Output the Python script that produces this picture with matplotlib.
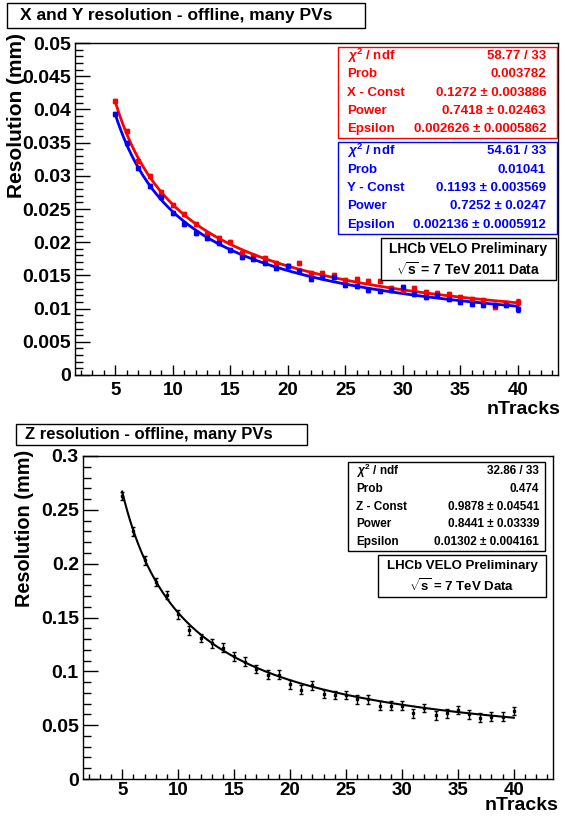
import numpy as np
import matplotlib
matplotlib.use("Agg")
import matplotlib.pyplot as plt
from matplotlib.patches import Rectangle
from matplotlib.ticker import MultipleLocator

plt.rcParams['font.family'] = ['Liberation Sans', 'DejaVu Sans']
plt.rcParams['font.weight'] = 'bold'
plt.rcParams['mathtext.fontset'] = 'custom'
plt.rcParams['mathtext.rm'] = 'Liberation Sans:bold'
plt.rcParams['mathtext.it'] = 'Liberation Sans:italic'
plt.rcParams['mathtext.bf'] = 'Liberation Sans:bold'

# --- données ---
n_tracks = list(range(5, 41))

res_x = [0.0412, 0.0367, 0.0323, 0.0299, 0.0275, 0.0256, 0.0242, 0.0228, 0.0212, 0.0206,
         0.0200, 0.0183, 0.0179, 0.0176, 0.0169, 0.0164, 0.0168, 0.0153, 0.0153, 0.0151,
         0.0143, 0.0145, 0.0141, 0.0141, 0.0131, 0.0128, 0.0131, 0.0125, 0.0123, 0.0122,
         0.0118, 0.0114, 0.0113, 0.0103, 0.0108, 0.0110]
res_x_err = [0.0003, 0.0003, 0.0003, 0.0003, 0.0003, 0.0003, 0.0003, 0.0003, 0.0003, 0.0003,
             0.0003, 0.0003, 0.0003, 0.0003, 0.0003, 0.0003, 0.0003, 0.0003, 0.0003, 0.0003,
             0.0003, 0.0003, 0.0003, 0.0003, 0.0003, 0.0003, 0.0003, 0.0003, 0.0003, 0.0003,
             0.0003, 0.0003, 0.0003, 0.0003, 0.0003, 0.0004]

res_y = [0.0393, 0.0349, 0.0311, 0.0285, 0.0268, 0.0244, 0.0228, 0.0214, 0.0206, 0.0199,
         0.0188, 0.0178, 0.0174, 0.0168, 0.0161, 0.0164, 0.0156, 0.0144, 0.0147, 0.0147,
         0.0136, 0.0134, 0.0128, 0.0127, 0.0128, 0.0132, 0.0122, 0.0118, 0.0120, 0.0114,
         0.0110, 0.0107, 0.0105, 0.0105, 0.0105, 0.0099]
res_y_err = res_x_err

res_z = [0.263, 0.230, 0.203, 0.183, 0.171, 0.153, 0.138, 0.131, 0.126, 0.122,
         0.114, 0.109, 0.102, 0.097, 0.097, 0.088, 0.083, 0.087, 0.079, 0.078,
         0.078, 0.074, 0.074, 0.068, 0.068, 0.068, 0.061, 0.066, 0.059, 0.061,
         0.064, 0.060, 0.057, 0.058, 0.058, 0.063]
res_z_err = [0.004] * 36

# paramètres des ajustements (affichés dans les boîtes)
fit_x = (0.1272, 0.7418, 0.002626)
fit_y = (0.1193, 0.7252, 0.002136)
fit_z = (0.9878, 0.8441, 0.01302)

stats_x = [(r'$\chi^{2}$ / ndf', '58.77 / 33'), ('Prob', '0.003782'),
           ('X - Const', '0.1272 ± 0.003886'), ('Power', '0.7418 ± 0.02463'),
           ('Epsilon', '0.002626 ± 0.0005862')]
stats_y = [(r'$\chi^{2}$ / ndf', '54.61 / 33'), ('Prob', '0.01041'),
           ('Y - Const', '0.1193 ± 0.003569'), ('Power', '0.7252 ± 0.0247'),
           ('Epsilon', '0.002136 ± 0.0005912')]
stats_z = [(r'$\chi^{2}$ / ndf', '32.86 / 33'), ('Prob', '0.474'),
           ('Z - Const', '0.9878 ± 0.04541'), ('Power', '0.8441 ± 0.03339'),
           ('Epsilon', '0.01302 ± 0.004161')]

W, H = 565, 823
fig = plt.figure(figsize=(W / 100, H / 100), dpi=100)


def fx(px):
    return px / W


def fy(py):
    return 1 - py / H


def make_axes(x0, x1, y0, y1):
    return fig.add_axes([fx(x0), fy(y1), fx(x1) - fx(x0), fy(y0) - fy(y1)])


def model(n, p):
    return p[0] / n ** p[1] + p[2]


def box(x0, x1, y0, y1, color='black', lw=1.0):
    fig.add_artist(Rectangle((fx(x0), fy(y1)), fx(x1) - fx(x0), fy(y0) - fy(y1),
                             transform=fig.transFigure, facecolor='white',
                             edgecolor=color, lw=lw, zorder=5))


def stat_box(rows, x0, x1, y0, y1, color, size, pad_l=9, pad_r=11):
    box(x0, x1, y0, y1, color)
    dy = (y1 - y0) / len(rows)
    for i, (lab, val) in enumerate(rows):
        yc = y0 + dy * (i + 0.5)
        fig.text(fx(x0 + pad_l), fy(yc), lab, color=color, fontsize=size,
                 ha='left', va='center', zorder=6)
        fig.text(fx(x1 - pad_r), fy(yc), val, color=color, fontsize=size,
                 ha='right', va='center', zorder=6)


def style_axes(ax, ymax, ymajor, ypad, xpad):
    ax.set_xlim(1.5, 43.5)
    ax.set_ylim(0, ymax)
    ax.xaxis.set_major_locator(MultipleLocator(5))
    ax.xaxis.set_minor_locator(MultipleLocator(1))
    ax.yaxis.set_major_locator(MultipleLocator(ymajor))
    ax.yaxis.set_minor_locator(MultipleLocator(ymajor / 5))
    ax.tick_params(axis='y', which='major', direction='in', length=10.5, width=1,
                   labelsize=14, pad=ypad)
    ax.tick_params(axis='y', which='minor', direction='in', length=5.5, width=1)
    ax.tick_params(axis='x', which='major', direction='in', length=7, width=1,
                   labelsize=13.5, pad=xpad)
    ax.tick_params(axis='x', which='minor', direction='in', length=3.5, width=1)
    ax.xaxis.set_major_formatter(plt.FuncFormatter(lambda v, p: '%g' % v))
    ax.yaxis.set_major_formatter(plt.FuncFormatter(lambda v, p: '%g' % v))
    for s in ax.spines.values():
        s.set_linewidth(1.0)


n_fine = np.linspace(5, 40, 300)

# --- panneau du haut : X et Y ---
ax1 = make_axes(75, 558, 43, 375)
style_axes(ax1, 0.05, 0.005, 3, 5)
ax1.plot(n_fine, model(n_fine, fit_x), color='red', lw=2)
ax1.plot(n_fine, model(n_fine, fit_y), color='blue', lw=2)
ax1.errorbar(n_tracks, res_x, yerr=res_x_err, fmt='s', color='red', ms=2.3,
             capsize=1.5, elinewidth=1)
ax1.errorbar(n_tracks, res_y, yerr=res_y_err, fmt='s', color='blue', ms=2.3,
             capsize=1.5, elinewidth=1)

box(7, 365, 3, 28)
fig.text(fx(20), fy(15.5), 'X and Y resolution - offline, many PVs', fontsize=12.5,
         ha='left', va='center', zorder=6)
fig.text(fx(17), fy(33), 'Resolution (mm)', rotation=90, fontsize=15,
         ha='center', va='top')
fig.text(fx(560), fy(409), 'nTracks', fontsize=14, ha='right', va='center')

stat_box(stats_x, 338, 557, 47, 138, 'red', 9.5)
stat_box(stats_y, 338, 557, 142, 234, 'blue', 9.5)
box(381, 556, 238, 280)
fig.text(fx(468), fy(248.5), 'LHCb VELO Preliminary', fontsize=10, ha='center',
         va='center', zorder=6)
fig.text(fx(468), fy(270), r'$\sqrt{\mathrm{s}}$ = 7 TeV 2011 Data', fontsize=10,
         ha='center', va='center', zorder=6)

# --- panneau du bas : Z ---
ax2 = make_axes(83, 553, 456, 779)
style_axes(ax2, 0.3, 0.05, 3, 2)
ax2.plot(n_fine, model(n_fine, fit_z), color='black', lw=1.5)
ax2.errorbar(n_tracks, res_z, yerr=res_z_err, fmt='s', color='black', ms=2,
             capsize=1.5, elinewidth=1)

box(16, 307, 424, 445)
fig.text(fx(25), fy(434.5), 'Z resolution - offline, many PVs', fontsize=12,
         ha='left', va='center', zorder=6)
fig.text(fx(25), fy(450), 'Resolution (mm)', rotation=90, fontsize=14.3,
         ha='center', va='top')
fig.text(fx(558), fy(806), 'nTracks', fontsize=14, ha='right', va='center')

stat_box(stats_z, 348, 545, 462, 551, 'black', 8.5, pad_l=8, pad_r=6)
box(378, 546, 555, 597)
fig.text(fx(462), fy(566), 'LHCb VELO Preliminary', fontsize=9.5, ha='center',
         va='center', zorder=6)
fig.text(fx(462), fy(586), r'$\sqrt{\mathrm{s}}$ = 7 TeV Data', fontsize=9.5,
         ha='center', va='center', zorder=6)

fig.savefig('out.png', dpi=100)
